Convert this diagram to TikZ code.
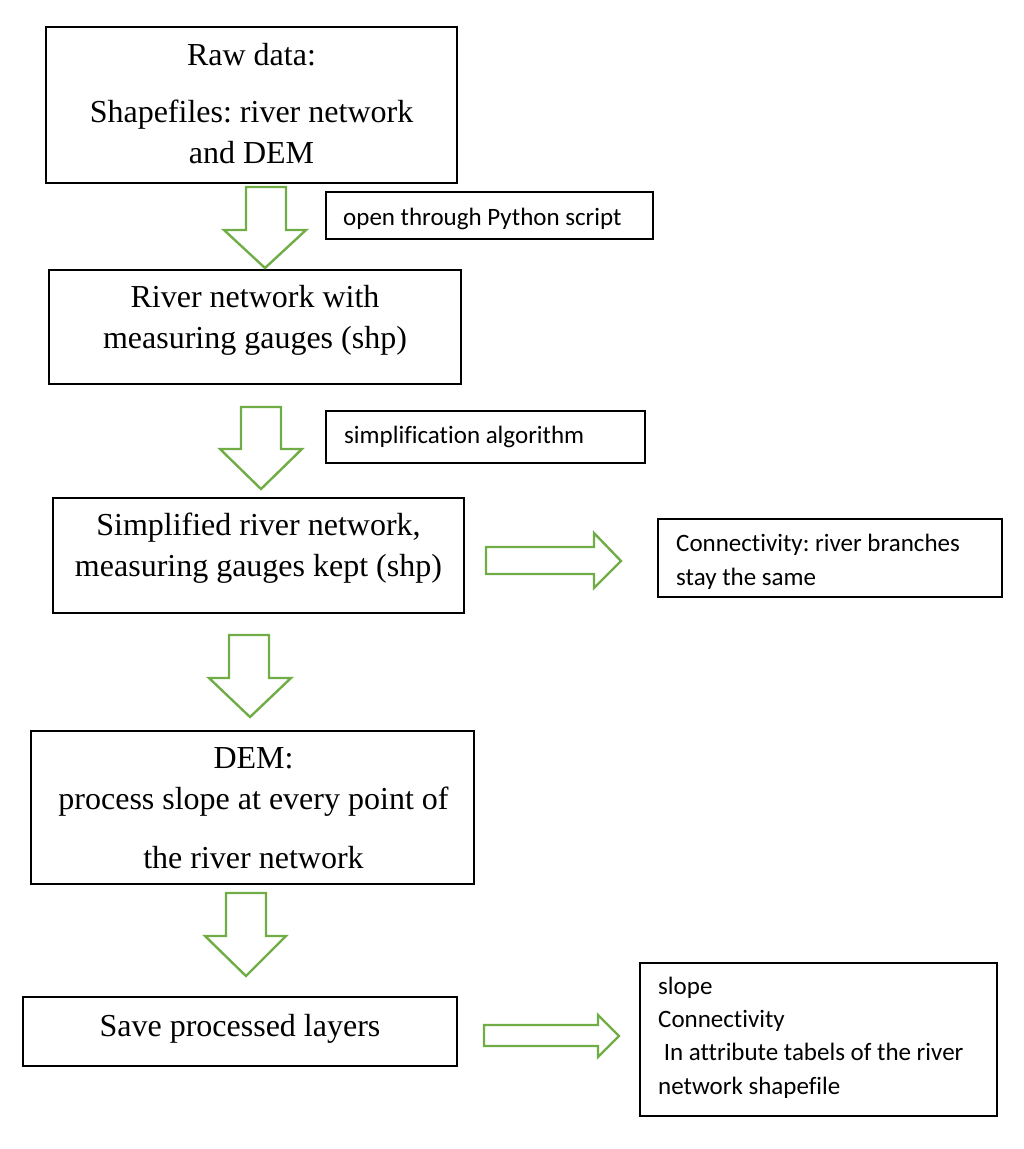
\documentclass[tikz,border=0pt]{standalone}
\usepackage{fontspec}
\setmainfont{Liberation Serif}[Ligatures=NoCommon]
\newfontfamily\sidefont{Carlito}[Ligatures=NoCommon]
\definecolor{agreen}{HTML}{70AD47}
\frenchspacing
\begin{document}
\begin{tikzpicture}[x=1pt,y=-1pt,
  box/.style={draw=black, line width=2.3pt, inner sep=0pt},
  sbox/.style={draw=black, line width=1.2pt, inner sep=0pt},
  mtxt/.style={font=\fontsize{32}{41}\selectfont\frenchspacing, align=center, inner sep=0pt, anchor=base},
  stxt/.style={font=\sidefont\fontsize{25}{33.3}\selectfont\frenchspacing, align=left, inner sep=0pt, anchor=base west},
  garrow/.style={draw=agreen, line width=2.4pt, line join=miter}]
\useasboundingbox (0,0) rectangle (1024,1149);

% main boxes
\node[box, minimum width=411pt, minimum height=156pt] (b1) at (251.5,105) {};
\node[box, minimum width=412pt, minimum height=114pt] (b2) at (255,327) {};
\node[box, minimum width=411pt, minimum height=115pt] (b3) at (258.5,555.5) {};
\node[box, minimum width=443pt, minimum height=153pt] (b4) at (252.5,807.5) {};
\node[box, minimum width=434pt, minimum height=69pt] (b5) at (240,1031.5) {};

% side boxes
\node[sbox, minimum width=327pt, minimum height=47pt] (s1) at (489.5,215.5) {};
\node[sbox, minimum width=319pt, minimum height=52pt] (s2) at (485.5,437) {};
\node[sbox, minimum width=344pt, minimum height=78pt] (s3) at (830,558) {};
\node[sbox, minimum width=357pt, minimum height=153pt] (s4) at (818.5,1039.5) {};

% main texts (anchor = baseline of the last line)
\node[mtxt] (t1) at (251.5,163) {Raw data:\\[16pt]Shapefiles: river network\\and DEM};
\node[mtxt] (t2) at (255,348) {River network with\\measuring gauges (shp)};
\node[mtxt] (t3) at (258.5,576) {Simplified river network,\\measuring gauges kept (shp)};
\node[mtxt] (t4) at (253.5,868) {DEM:\\process slope at every point of\\[18pt]the river network};
\node[mtxt] (t5) at (240,1036) {Save processed layers};

% side texts
\node[stxt] (st1) at (343,225) {open through Python script};
\node[stxt] (st2) at (344,443) {simplification algorithm};
\node[stxt] (st3) at (676,585) {Connectivity: river branches\\stay the same};
\node[stxt] (st4) at (658,1094) {slope\\Connectivity\\\hspace*{5.6pt}In attribute tabels of the river\\network shapefile};

% block arrows (down)
\draw[garrow] (246,187) -- (286,187) -- (286,230) -- (306,230) -- (265,268) -- (224,230) -- (246,230) -- cycle;
\draw[garrow] (241,407) -- (281,407) -- (281,449) -- (302,449) -- (261,489) -- (220,449) -- (241,449) -- cycle;
\draw[garrow] (229,635) -- (269,635) -- (269,678) -- (291,678) -- (250,717) -- (209,678) -- (229,678) -- cycle;
\draw[garrow] (226,893) -- (266,893) -- (266,936) -- (286,936) -- (246,976) -- (205,936) -- (226,936) -- cycle;

% block arrows (right)
\draw[garrow] (486,547) -- (594,547) -- (594,533) -- (621,561) -- (594,588) -- (594,574) -- (486,574) -- cycle;
\draw[garrow] (484,1025) -- (598,1025) -- (598,1015) -- (619,1036) -- (598,1057) -- (598,1046) -- (484,1046) -- cycle;
\end{tikzpicture}
\end{document}
